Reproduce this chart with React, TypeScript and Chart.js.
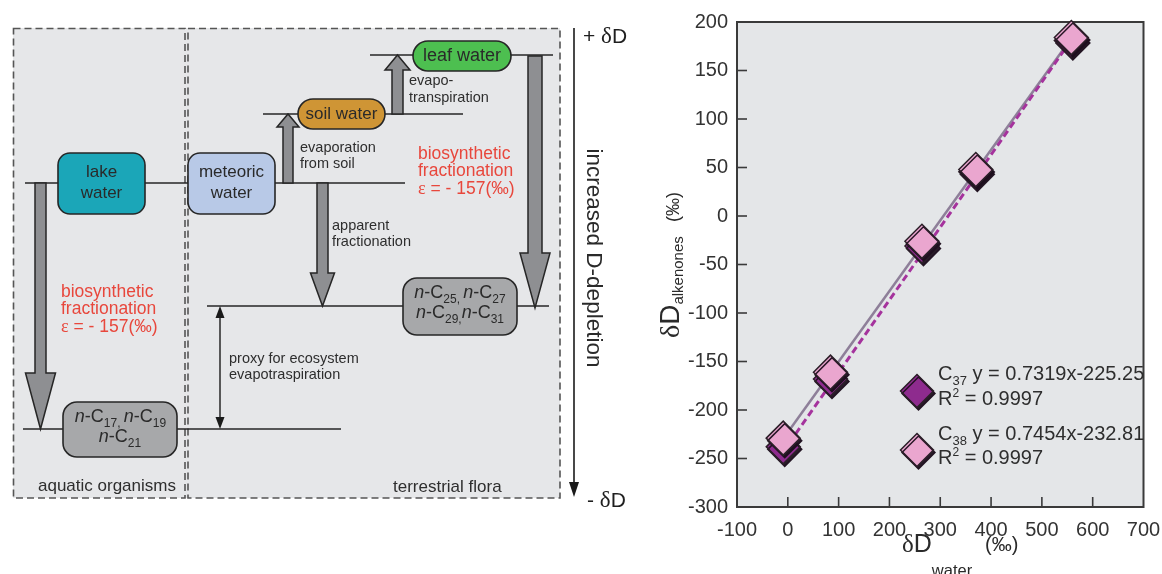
import React, { useEffect, useRef } from 'react';
import { Chart, registerables } from 'chart.js';

Chart.register(...registerables);

const SANS = '"Liberation Sans", Arial, Helvetica, sans-serif';
const SERIF = '"Liberation Serif", "Times New Roman", serif';

// ---- data ----
const waterC37 = [-9, 84, 264, 370, 558];
const alkC37 = [-238, -168, -31, 45.5, 181];
const waterC38 = [-9, 84, 264, 370, 558];
const alkC38 = [-229, -161, -26, 48, 184];
const fitC38Water = [-7, 559];
const fitC38Alk = [-228, 184];
const fitC37Water = [3, 556];
const fitC37Alk = [-234, 180];

const xMin = -100, xMax = 700, xStep = 100;
const yMin = -300, yMax = 200, yStep = 50;

const eqC37 = 'y = 0.7319x-225.25';
const eqC38 = 'y = 0.7454x-232.81';
const r2C37 = '= 0.9997';
const r2C38 = '= 0.9997';

const PINK = '#eaa6cf';
const PURPLE = '#8e2b8e';
const MARK_EDGE = '#2b1f28';

const F = (size: number, fam: string = SANS, style: string = '') =>
  `${style} ${size}px ${fam}`.trim();

type Seg = { t: string; f: string; dy?: number };

function segsWidth(ctx: CanvasRenderingContext2D, segs: Seg[]) {
  let w = 0;
  for (const s of segs) {
    ctx.font = s.f;
    w += ctx.measureText(s.t).width;
  }
  return w;
}

function drawSegs(
  ctx: CanvasRenderingContext2D,
  segs: Seg[],
  x: number,
  y: number,
  align: 'left' | 'center' = 'left'
) {
  let cx = align === 'center' ? x - segsWidth(ctx, segs) / 2 : x;
  ctx.textAlign = 'left';
  ctx.textBaseline = 'alphabetic';
  for (const s of segs) {
    ctx.font = s.f;
    ctx.fillText(s.t, cx, y + (s.dy || 0));
    cx += ctx.measureText(s.t).width;
  }
}

function rrect(
  ctx: CanvasRenderingContext2D,
  x: number, y: number, w: number, h: number, r: number,
  fill: string
) {
  ctx.beginPath();
  ctx.moveTo(x + r, y);
  ctx.lineTo(x + w - r, y);
  ctx.arcTo(x + w, y, x + w, y + r, r);
  ctx.lineTo(x + w, y + h - r);
  ctx.arcTo(x + w, y + h, x + w - r, y + h, r);
  ctx.lineTo(x + r, y + h);
  ctx.arcTo(x, y + h, x, y + h - r, r);
  ctx.lineTo(x, y + r);
  ctx.arcTo(x, y, x + r, y, r);
  ctx.closePath();
  ctx.fillStyle = fill;
  ctx.fill();
  ctx.lineWidth = 1.6;
  ctx.strokeStyle = '#262626';
  ctx.stroke();
}

function fatArrow(
  ctx: CanvasRenderingContext2D,
  x: number, yStart: number, yHeadBase: number, yTip: number,
  halfShaft: number, halfHead: number
) {
  ctx.beginPath();
  ctx.moveTo(x - halfShaft, yStart);
  ctx.lineTo(x - halfShaft, yHeadBase);
  ctx.lineTo(x - halfHead, yHeadBase);
  ctx.lineTo(x, yTip);
  ctx.lineTo(x + halfHead, yHeadBase);
  ctx.lineTo(x + halfShaft, yHeadBase);
  ctx.lineTo(x + halfShaft, yStart);
  ctx.closePath();
  ctx.fillStyle = '#8e8f92';
  ctx.fill();
  ctx.lineWidth = 1.5;
  ctx.strokeStyle = '#262626';
  ctx.stroke();
}

function line(ctx: CanvasRenderingContext2D, x1: number, y1: number, x2: number, y2: number) {
  ctx.beginPath();
  ctx.moveTo(x1, y1);
  ctx.lineTo(x2, y2);
  ctx.stroke();
}

function nC(a: string, b?: string, sep: string = ', '): Seg[] {
  const main = F(18);
  const it = F(18, SANS, 'italic');
  const sub = F(12);
  const segs: Seg[] = [
    { t: 'n', f: it },
    { t: '-C', f: main },
    { t: a, f: sub, dy: 5 },
  ];
  if (b) {
    segs.push({ t: sep, f: sub, dy: 5 });
    segs.push({ t: 'n', f: it });
    segs.push({ t: '-C', f: main });
    segs.push({ t: b, f: sub, dy: 5 });
  }
  return segs;
}

function drawDiagram(ctx: CanvasRenderingContext2D) {
  ctx.save();
  // panels
  ctx.fillStyle = '#e6e7e9';
  ctx.fillRect(13, 28, 547, 470);
  ctx.setLineDash([7, 4]);
  ctx.lineWidth = 1.6;
  ctx.strokeStyle = '#555';
  ctx.strokeRect(13.5, 28.5, 171.5, 469.5);
  ctx.strokeRect(188, 28.5, 372, 469.5);
  ctx.setLineDash([]);

  // level lines
  ctx.strokeStyle = '#262626';
  ctx.lineWidth = 1.6;
  line(ctx, 25, 183, 405, 183);
  line(ctx, 263, 114, 463, 114);
  line(ctx, 370, 55, 553, 55);
  line(ctx, 207, 306, 549, 306);
  line(ctx, 23, 429, 341, 429);

  // fat arrows
  fatArrow(ctx, 40.5, 183, 373, 429, 5.5, 15);
  fatArrow(ctx, 288, 183, 127, 114, 5, 11);
  fatArrow(ctx, 397.5, 114, 70, 55, 5.5, 12.5);
  fatArrow(ctx, 322.5, 183, 273, 306, 5.5, 12);
  fatArrow(ctx, 535, 56, 253, 308, 7, 15);

  // boxes
  rrect(ctx, 58, 153, 87, 61, 12, '#1ba6b8');
  rrect(ctx, 188, 153, 87, 61, 12, '#b8c9e7');
  rrect(ctx, 298, 99, 87, 30, 15, '#cf9535');
  rrect(ctx, 413, 41, 98, 30, 15, '#4dbf50');
  rrect(ctx, 403, 278, 114, 57, 14, '#a7a8aa');
  rrect(ctx, 63, 402, 114, 55, 14, '#a7a8aa');

  // proxy double arrow
  ctx.strokeStyle = '#1a1a1a';
  ctx.lineWidth = 1.4;
  line(ctx, 220, 314, 220, 421);
  ctx.fillStyle = '#1a1a1a';
  ctx.beginPath();
  ctx.moveTo(220, 306); ctx.lineTo(215.5, 318); ctx.lineTo(224.5, 318); ctx.closePath(); ctx.fill();
  ctx.beginPath();
  ctx.moveTo(220, 429); ctx.lineTo(215.5, 417); ctx.lineTo(224.5, 417); ctx.closePath(); ctx.fill();

  // right vertical arrow
  ctx.lineWidth = 1.6;
  line(ctx, 574, 28, 574, 486);
  ctx.beginPath();
  ctx.moveTo(574, 497); ctx.lineTo(569, 482); ctx.lineTo(579, 482); ctx.closePath(); ctx.fill();

  // box labels
  ctx.fillStyle = '#2a2a2a';
  ctx.textAlign = 'center';
  ctx.textBaseline = 'middle';
  ctx.font = F(17);
  ctx.fillText('lake', 101.5, 172);
  ctx.fillText('water', 101.5, 193);
  ctx.fillText('meteoric', 231.5, 172);
  ctx.fillText('water', 231.5, 193);
  ctx.fillText('soil water', 341.5, 114);
  ctx.font = F(18);
  ctx.fillText('leaf water', 462, 56);

  drawSegs(ctx, nC('25', '27'), 460, 298, 'center');
  drawSegs(ctx, nC('29', '31', ','), 460, 318, 'center');
  drawSegs(ctx, nC('17', '19'), 120.5, 421.5, 'center');
  drawSegs(ctx, nC('21'), 120, 442, 'center');

  // small annotations
  ctx.textAlign = 'left';
  ctx.textBaseline = 'alphabetic';
  ctx.font = F(14.5);
  ctx.fillStyle = '#2e2e2e';
  ctx.fillText('evaporation', 300, 152);
  ctx.fillText('from soil', 300, 168);
  ctx.fillText('evapo-', 409, 85);
  ctx.fillText('transpiration', 409, 102);
  ctx.fillText('apparent', 332, 230);
  ctx.fillText('fractionation', 332, 246);
  ctx.fillText('proxy for ecosystem', 229, 363);
  ctx.fillText('evapotraspiration', 229, 379);
  ctx.font = F(17);
  ctx.fillText('aquatic organisms', 38, 491);
  ctx.fillText('terrestrial flora', 393, 492);

  // red biosynthetic labels
  ctx.fillStyle = '#e8473c';
  const red = F(17.5);
  const bio = (x: number, y: number) => {
    ctx.font = red;
    ctx.textAlign = 'left';
    ctx.fillText('biosynthetic', x, y);
    ctx.fillText('fractionation', x, y + 17);
    drawSegs(ctx, [
      { t: 'ε', f: F(18, SERIF) },
      { t: ' = - 157(‰)', f: red },
    ], x, y + 35);
  };
  bio(61, 297);
  bio(418, 159);

  // delta D labels
  ctx.fillStyle = '#1f1f1f';
  drawSegs(ctx, [
    { t: '+ ', f: F(21) },
    { t: 'δ', f: F(23, SERIF) },
    { t: 'D', f: F(21) },
  ], 583, 43);
  drawSegs(ctx, [
    { t: '- ', f: F(21) },
    { t: 'δ', f: F(23, SERIF) },
    { t: 'D', f: F(21) },
  ], 587, 507);

  // vertical label
  ctx.save();
  ctx.translate(587, 258);
  ctx.rotate(Math.PI / 2);
  ctx.font = F(22.5);
  ctx.fillStyle = '#2a2a2a';
  ctx.textAlign = 'center';
  ctx.textBaseline = 'alphabetic';
  ctx.fillText('increased D-depletion', 0, 0);
  ctx.restore();

  ctx.restore();
}

function diamond(ctx: CanvasRenderingContext2D, x: number, y: number, r: number, fill: string) {
  ctx.save();
  ctx.shadowColor = 'rgba(30,15,30,0.95)';
  ctx.shadowOffsetX = 1.5;
  ctx.shadowOffsetY = 2.5;
  ctx.beginPath();
  ctx.moveTo(x, y - r);
  ctx.lineTo(x + r, y);
  ctx.lineTo(x, y + r);
  ctx.lineTo(x - r, y);
  ctx.closePath();
  ctx.fillStyle = fill;
  ctx.fill();
  ctx.lineWidth = 1.5;
  ctx.strokeStyle = MARK_EDGE;
  ctx.stroke();
  ctx.restore();
}

const backgroundPlugin = {
  id: 'bgDiagram',
  beforeDraw(chart: any) {
    const ctx = chart.ctx as CanvasRenderingContext2D;
    ctx.save();
    ctx.fillStyle = '#ffffff';
    ctx.fillRect(0, 0, chart.width, chart.height);
    ctx.restore();
    drawDiagram(ctx);
    const a = chart.chartArea;
    ctx.save();
    ctx.fillStyle = '#e4e6e8';
    ctx.fillRect(a.left, a.top, a.right - a.left, a.bottom - a.top);
    ctx.restore();
  },
  beforeDatasetsDraw(chart: any) {
    const ctx = chart.ctx as CanvasRenderingContext2D;
    const a = chart.chartArea;
    const xs = chart.scales.x;
    const ys = chart.scales.y;
    ctx.save();
    ctx.strokeStyle = '#3a3a3a';
    ctx.lineWidth = 2;
    ctx.strokeRect(a.left, a.top, a.right - a.left, a.bottom - a.top);
    ctx.lineWidth = 1.6;
    for (let v = xMin + xStep; v < xMax; v += xStep) {
      const px = xs.getPixelForValue(v);
      line(ctx, px, a.bottom, px, a.bottom - 10);
    }
    for (let v = yMin + yStep; v < yMax; v += yStep) {
      const py = ys.getPixelForValue(v);
      line(ctx, a.left, py, a.left + 10, py);
    }
    ctx.restore();
  },
  beforeDatasetDraw(chart: any, args: any) {
    const ds = chart.data.datasets[args.index];
    if (ds && ds.isMarker) {
      const ctx = chart.ctx as CanvasRenderingContext2D;
      ctx.save();
      ctx.shadowColor = 'rgba(30,15,30,0.95)';
      ctx.shadowOffsetX = 1.5;
      ctx.shadowOffsetY = 2.5;
    }
  },
  afterDatasetDraw(chart: any, args: any) {
    const ds = chart.data.datasets[args.index];
    if (ds && ds.isMarker) {
      chart.ctx.restore();
    }
  },
  afterDraw(chart: any) {
    const ctx = chart.ctx as CanvasRenderingContext2D;
    ctx.save();
    // legend inside plot
    diamond(ctx, 917, 391, 16.5, PURPLE);
    diamond(ctx, 917, 450, 16.5, PINK);
    ctx.fillStyle = '#2e2e2e';
    const big = F(20);
    const sub = F(13);
    drawSegs(ctx, [
      { t: 'C', f: big },
      { t: '37', f: sub, dy: 5 },
      { t: ' ' + eqC37, f: big },
    ], 938, 380);
    drawSegs(ctx, [
      { t: 'R', f: big },
      { t: '2', f: F(12), dy: -8 },
      { t: ' ' + r2C37, f: big },
    ], 938, 405);
    drawSegs(ctx, [
      { t: 'C', f: big },
      { t: '38', f: sub, dy: 5 },
      { t: ' ' + eqC38, f: big },
    ], 938, 440);
    drawSegs(ctx, [
      { t: 'R', f: big },
      { t: '2', f: F(12), dy: -8 },
      { t: ' ' + r2C38, f: big },
    ], 938, 464);

    // axis titles
    ctx.fillStyle = '#2a2a2a';
    drawSegs(ctx, [
      { t: 'δ', f: F(25, SERIF) },
      { t: 'D', f: F(25) },
      { t: 'water', f: F(16.5), dy: 24 },
    ], 902, 552);
    drawSegs(ctx, [{ t: '(‰)', f: F(20) }], 985, 551);

    ctx.save();
    ctx.translate(679, 338);
    ctx.rotate(-Math.PI / 2);
    drawSegs(ctx, [
      { t: 'δ', f: F(28, SERIF) },
      { t: 'D', f: F(28) },
      { t: 'alkenones', f: F(15), dy: 4 },
    ], 0, 0);
    drawSegs(ctx, [{ t: '(‰)', f: F(18) }], 116, 0);
    ctx.restore();
    ctx.restore();
  },
};

const tickFont = { family: SANS, size: 20 };

export default function App() {
  const ref = useRef<HTMLCanvasElement>(null);
  useEffect(() => {
    if (!ref.current) return;
    const toXY = (xs: number[], ys: number[]) => xs.map((x, i) => ({ x, y: ys[i] }));
    const chart = new Chart(ref.current, {
      type: 'scatter',
      data: {
        datasets: [
          {
            label: 'C38 fit',
            data: toXY(fitC38Water, fitC38Alk),
            showLine: true,
            borderColor: '#8e7f99',
            borderWidth: 2.5,
            pointRadius: 0,
            order: 4,
            clip: false,
          } as any,
          {
            label: 'C37 fit',
            data: toXY(fitC37Water, fitC37Alk),
            showLine: true,
            borderColor: '#a5339d',
            borderWidth: 3,
            borderDash: [7, 4],
            pointRadius: 0,
            order: 3,
            clip: false,
          } as any,
          {
            label: 'C37',
            isMarker: true,
            data: toXY(waterC37, alkC37),
            pointStyle: 'rectRot',
            pointRadius: 17,
            backgroundColor: PURPLE,
            borderColor: MARK_EDGE,
            borderWidth: 1.5,
            order: 2,
            clip: false,
          } as any,
          {
            label: 'C38',
            isMarker: true,
            data: toXY(waterC38, alkC38),
            pointStyle: 'rectRot',
            pointRadius: 17,
            backgroundColor: PINK,
            borderColor: MARK_EDGE,
            borderWidth: 1.5,
            order: 1,
            clip: false,
          } as any,
        ],
      },
      options: {
        responsive: false,
        devicePixelRatio: 1,
        animation: false,
        events: [],
        layout: { padding: { left: 677, right: 12, top: 22, bottom: 27 } },
        plugins: {
          legend: { display: false },
          tooltip: { enabled: false },
        },
        scales: {
          x: {
            type: 'linear',
            position: 'bottom',
            min: xMin,
            max: xMax,
            ticks: {
              stepSize: xStep,
              font: tickFont,
              color: '#333',
              padding: 11,
              maxRotation: 0,
              autoSkip: false,
            },
            grid: { display: false, drawTicks: false },
            border: { display: false },
            afterFit: (s: any) => {
              s.height = 40;
              s.paddingLeft = 0;
              s.paddingRight = 0;
            },
          },
          y: {
            type: 'linear',
            position: 'left',
            min: yMin,
            max: yMax,
            ticks: {
              stepSize: yStep,
              font: tickFont,
              color: '#333',
              padding: 9,
              autoSkip: false,
            },
            grid: { display: false, drawTicks: false },
            border: { display: false },
            afterFit: (s: any) => {
              s.width = 60;
              s.paddingTop = 0;
              s.paddingBottom = 0;
            },
          },
        },
      } as any,
      plugins: [backgroundPlugin],
    });
    return () => chart.destroy();
  }, []);

  return (
    <div
      style={{
        position: 'fixed',
        left: 0,
        top: 0,
        width: 1162,
        height: 574,
        background: '#fff',
      }}
    >
      <canvas
        ref={ref}
        width={1162}
        height={574}
        style={{ display: 'block', width: 1162, height: 574 }}
      />
    </div>
  );
}
